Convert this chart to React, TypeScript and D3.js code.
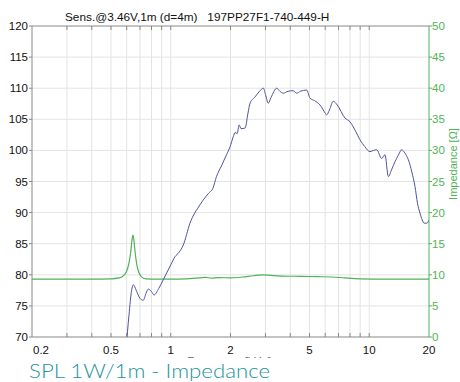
import React from 'react';
import * as d3 from 'd3';

// SPL 1W/1m (dB) against frequency (kHz)
const splFreq = [0.595, 0.616, 0.635, 0.648, 0.67, 0.7, 0.727, 0.75, 0.771, 0.8, 0.824, 0.87, 0.917, 1.0, 1.05, 1.1, 1.157, 1.25, 1.4, 1.55, 1.63, 1.7, 1.8, 1.91, 1.99, 2.065, 2.11, 2.16, 2.21, 2.26, 2.37, 2.45, 2.51, 2.66, 2.8, 2.93, 3.0, 3.1, 3.2, 3.42, 3.55, 3.69, 3.9, 4.14, 4.31, 4.5, 4.84, 5.03, 5.3, 5.65, 6.0, 6.1, 6.3, 6.59, 6.9, 7.55, 8.0, 8.5, 8.98, 9.5, 10.09, 10.5, 10.9, 11.55, 12.0, 12.48, 13.0, 13.49, 14.0, 14.57, 15.1, 15.74, 16.4, 17.0, 17.5, 18.02, 18.5, 18.88, 19.5, 20.0];
const splDb = [68, 73.5, 77.5, 78.4, 77.5, 76.2, 75.9, 77.0, 77.7, 77.3, 76.75, 77.8, 79.2, 81.6, 82.9, 83.6, 84.8, 88.3, 91.2, 93.1, 93.9, 95.8, 97.5, 99.3, 100.6, 102.2, 102.9, 102.7, 104.1, 103.5, 103.6, 106.0, 107.6, 108.6, 109.5, 110.0, 109.0, 107.6, 108.5, 110.0, 109.5, 109.2, 109.5, 109.6, 109.2, 109.5, 109.7, 108.4, 108.0, 107.3, 106.0, 105.7, 106.5, 107.9, 107.3, 105.2, 104.6, 103.2, 101.7, 100.6, 99.8, 100.0, 100.1, 98.7, 99.3, 95.8, 97.0, 98.2, 99.2, 100.1, 99.6, 98.5, 96.5, 94.2, 91.5, 89.9, 88.8, 88.3, 88.3, 88.8];

// Impedance (ohm) against frequency (kHz)
const impFreq = [0.2, 0.3, 0.4, 0.5, 0.55, 0.58, 0.6, 0.615, 0.628, 0.638, 0.645, 0.652, 0.662, 0.675, 0.69, 0.71, 0.75, 0.85, 1.0, 1.2, 1.4, 1.5, 1.6, 1.75, 2.0, 2.3, 2.6, 2.9, 3.2, 3.6, 4.5, 5.5, 6.5, 7.5, 9, 12, 20];
const impOhm = [9.3, 9.3, 9.3, 9.35, 9.5, 9.9, 10.6, 11.8, 13.5, 15.6, 16.4, 15.6, 13.5, 11.6, 10.4, 9.7, 9.35, 9.3, 9.3, 9.35, 9.5, 9.6, 9.45, 9.55, 9.5, 9.65, 9.85, 10.0, 9.9, 9.8, 9.75, 9.7, 9.65, 9.5, 9.35, 9.3, 9.3];

const gridFreqs = [0.3, 0.4, 0.5, 0.6, 0.7, 0.8, 0.9, 1, 2, 3, 4, 5, 6, 7, 8, 9, 10];
const freqLabels = [0.2, 0.5, 1, 2, 5, 10, 20];
const splTicks = [70, 75, 80, 85, 90, 95, 100, 105, 110, 115, 120];
const impTicks = [0, 5, 10, 15, 20, 25, 30, 35, 40, 45, 50];

const W = 460;
const H = 382;
const m = { left: 32, right: 429, top: 26, bottom: 337 };
const GREEN = '#4fb25a';
const BLUE = '#50529f';

export default function App() {
  const x = d3.scaleLog().domain([0.2, 20]).range([m.left, m.right]);
  const yL = d3.scaleLinear().domain([70, 120]).range([m.bottom, m.top]);
  const yR = d3.scaleLinear().domain([0, 50]).range([m.bottom, m.top]);

  const splLine = d3.line<number>()
    .x((_, i) => x(splFreq[i]))
    .y(d => yL(d))
    .curve(d3.curveMonotoneX);
  const impLine = d3.line<number>()
    .x((_, i) => x(impFreq[i]))
    .y(d => yR(d))
    .curve(d3.curveMonotoneX);

  const font = '"Liberation Sans", Arial, sans-serif';

  return (
    <svg width={W} height={H} style={{ position: 'absolute', left: 0, top: 0, background: '#fff' }} fontFamily={font}>
      <defs>
        <clipPath id="plot">
          <rect x={m.left} y={m.top} width={m.right - m.left} height={m.bottom - m.top} />
        </clipPath>
        <clipPath id="cut">
          <rect x={0} y={0} width={W} height={358} />
        </clipPath>
      </defs>

      {/* grid */}
      {gridFreqs.map(f => (
        <line key={'gv' + f} x1={x(f)} x2={x(f)} y1={m.top} y2={m.bottom} stroke="#e4e4e4" strokeWidth={1} />
      ))}
      {splTicks.slice(1, -1).map(v => (
        <line key={'gh' + v} x1={m.left} x2={m.right} y1={yL(v)} y2={yL(v)} stroke="#e4e4e4" strokeWidth={1} />
      ))}

      {/* frame ticks top / bottom */}
      {gridFreqs.map(f => (
        <g key={'tk' + f} stroke="#888">
          <line x1={x(f)} x2={x(f)} y1={m.top} y2={m.top + 4} />
          <line x1={x(f)} x2={x(f)} y1={m.bottom} y2={m.bottom - 4} />
        </g>
      ))}

      {/* curves */}
      <g clipPath="url(#plot)">
        <path d={impLine(impOhm) || ''} fill="none" stroke={GREEN} strokeWidth={1.2} />
        <path d={splLine(splDb) || ''} fill="none" stroke={BLUE} strokeWidth={1} />
      </g>

      {/* frame */}
      <line x1={m.left} x2={m.right} y1={m.top} y2={m.top} stroke="#888" />
      <line x1={m.left} x2={m.right} y1={m.bottom} y2={m.bottom} stroke="#888" />
      <line x1={m.left} x2={m.left} y1={m.top} y2={m.bottom} stroke="#888" />
      <line x1={m.right} x2={m.right} y1={m.top} y2={m.bottom} stroke={GREEN} />

      {/* left axis */}
      {splTicks.map(v => (
        <g key={'l' + v}>
          <line x1={m.left - 3} x2={m.left} y1={yL(v)} y2={yL(v)} stroke="#888" />
          <text x={m.left - 4} y={yL(v)} dy="0.35em" textAnchor="end" fontSize={11.5} fill="#111">{v}</text>
        </g>
      ))}

      {/* right axis */}
      {impTicks.map(v => (
        <g key={'r' + v}>
          <line x1={m.right} x2={m.right + 3} y1={yR(v)} y2={yR(v)} stroke={GREEN} />
          <text x={m.right + 3} y={yR(v)} dy="0.35em" textAnchor="start" fontSize={11.5} fill={GREEN}>{v}</text>
        </g>
      ))}
      <text transform={`translate(453, 164) rotate(-90)`} textAnchor="middle" dy="0.35em" fontSize={11} fill={GREEN}>Impedance [Ω]</text>

      {/* bottom axis */}
      {freqLabels.map((f, i) => (
        <text key={'b' + f} x={x(f) + (i === 0 ? 9 : 0)} y={354} textAnchor="middle" fontSize={11.5} fill="#111">{f}</text>
      ))}
      <g clipPath="url(#cut)">
        <text x={229} y={365} textAnchor="middle" fontSize={11.5} fill="#666">Frequency [kHz]</text>
      </g>

      {/* header */}
      <text x={65} y={21} fontSize={11.8} fill="#111" xmlSpace="preserve">{'Sens.@3.46V,1m (d=4m)   197PP27F1-740-449-H'}</text>

      {/* caption */}
      <text x={29} y={378} fontSize={20} fontWeight={300} fill="#23939a" fontFamily='Lato, "Open Sans", sans-serif'
        textLength={241} lengthAdjust="spacingAndGlyphs">SPL 1W/1m - Impedance</text>
    </svg>
  );
}
